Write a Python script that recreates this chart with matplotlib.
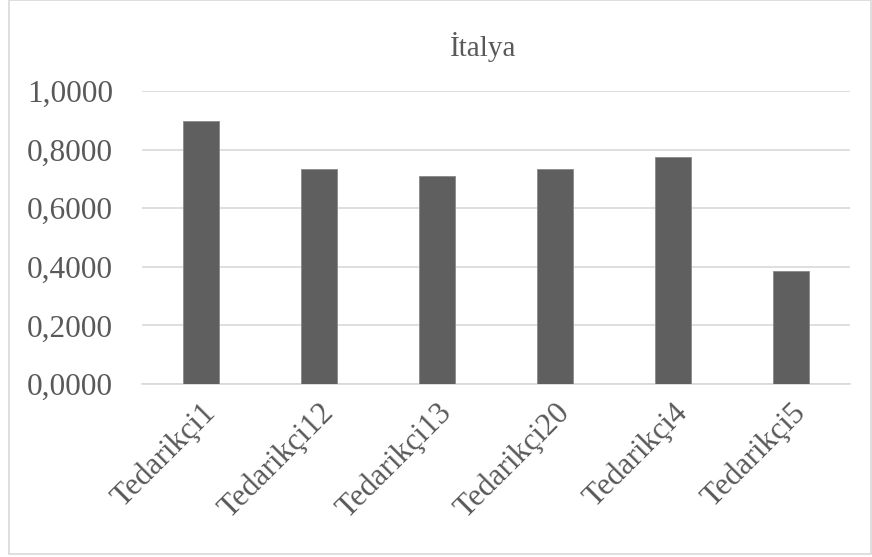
import matplotlib
matplotlib.use("Agg")
import matplotlib.pyplot as plt
from matplotlib.patches import Rectangle
from matplotlib.ticker import FuncFormatter

# values
suppliers = ["Tedarikçi1", "Tedarikçi12", "Tedarikçi13", "Tedarikçi20", "Tedarikçi4", "Tedarikçi5"]
scores = [0.896, 0.734, 0.711, 0.735, 0.774, 0.384]
y_ticks = [0.0, 0.2, 0.4, 0.6, 0.8, 1.0]
title = "İtalya"

TEXT = "#595959"
GRID = "#d9d9d9"
BAR = "#5f5f5f"

plt.rcParams["font.family"] = ["Liberation Serif", "DejaVu Serif"]

W, H = 872, 557
fig = plt.figure(figsize=(W / 100, H / 100), dpi=100)
ax = fig.add_axes([142 / W, 1 - 384 / H, (850 - 142) / W, (384 - 91) / H])

x = range(len(suppliers))
ax.bar(x, scores, width=0.313, color=BAR, edgecolor="#8a8a8a", linewidth=0.6, zorder=3)

ax.set_xlim(-0.5, len(suppliers) - 0.5)
ax.set_ylim(0, 1.0)
ax.set_yticks(y_ticks)
ax.yaxis.set_major_formatter(FuncFormatter(lambda v, _: f"{v:.4f}".replace(".", ",")))
ax.grid(axis="y", color=GRID, linewidth=1.2, zorder=0)
ax.set_xticks(list(x))
ax.set_xticklabels(suppliers, rotation=45, ha="right", rotation_mode="anchor")

for s in ["top", "right", "left"]:
    ax.spines[s].set_visible(False)
ax.spines["bottom"].set_color(GRID)
ax.spines["bottom"].set_linewidth(1.2)
ax.tick_params(axis="both", length=0, labelsize=22.5, colors=TEXT)
ax.tick_params(axis="y", pad=21)
ax.tick_params(axis="x", pad=10)

fig.text(483 / W, 1 - 47 / H, title, ha="center", va="center", fontsize=21, color=TEXT)

# outer chart border
fig.patches.append(Rectangle((9 / W, 1 - 554 / H), (871 - 9) / W, 554 / H,
                             transform=fig.transFigure, fill=False,
                             edgecolor=GRID, linewidth=1.2))

fig.savefig("out.png", dpi=100)
